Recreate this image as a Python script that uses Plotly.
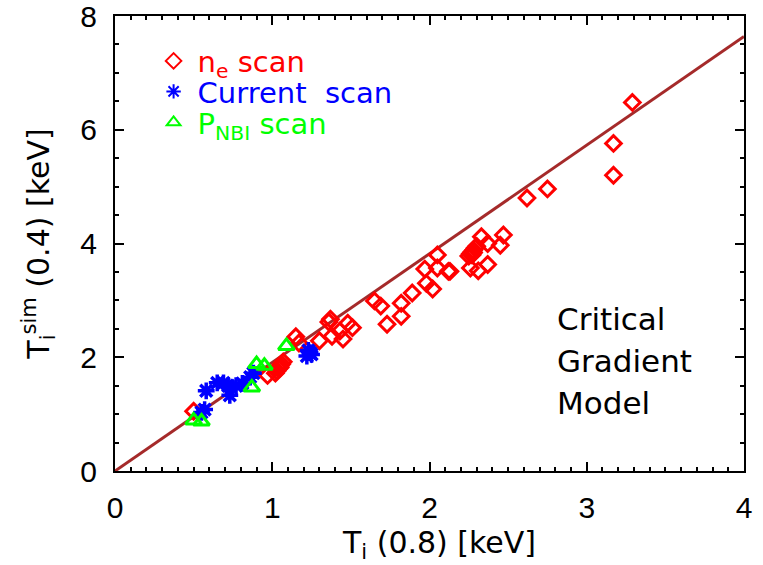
import plotly.graph_objects as go

# ---- data ----
ne_x = [0.50, 0.97, 1.02, 1.03, 1.04, 1.05, 1.05, 1.06, 1.07, 1.15, 1.17,
        1.30, 1.36, 1.37, 1.38, 1.43, 1.45, 1.48, 1.51,
        1.65, 1.69, 1.73, 1.82, 1.82, 1.89, 1.97, 1.98, 2.02, 2.05, 2.05, 2.12, 2.13,
        2.25, 2.26, 2.27, 2.27, 2.28, 2.28, 2.29, 2.30, 2.26, 2.31, 2.37,
        2.33, 2.47, 2.37, 2.45,
        2.62, 2.75, 3.17, 3.17, 3.29]
ne_y = [1.05, 1.68, 1.72, 1.76, 1.80, 1.82, 1.85, 1.88, 1.92, 2.36, 2.25,
        2.29, 2.62, 2.67, 2.37, 2.46, 2.32, 2.60, 2.52,
        2.99, 2.90, 2.58, 2.95, 2.72, 3.13, 3.55, 3.30, 3.20, 3.80, 3.57, 3.51, 3.51,
        3.78, 3.82, 3.80, 3.85, 3.84, 3.88, 3.92, 3.95, 3.57, 3.52, 3.63,
        4.12, 4.15, 4.00, 3.97,
        4.80, 4.96, 5.20, 5.76, 6.48]

cur_x = [0.55, 0.57, 0.58, 0.65, 0.69, 0.72, 0.73, 0.77, 0.81, 0.86, 0.88,
         1.22, 1.24, 1.23, 1.25]
cur_y = [1.03, 1.08, 1.41, 1.55, 1.55, 1.50, 1.33, 1.50, 1.54, 1.65, 1.72,
         2.02, 2.08, 2.12, 2.05]

nbi_x = [0.50, 0.55, 0.87, 0.90, 0.95, 1.09]
nbi_y = [0.89, 0.87, 1.47, 1.88, 1.85, 2.20]

fit_x = [0.0, 4.0]
fit_slope = 1.91
fit_y = [fit_slope * v for v in fit_x]

x_ticks = [0, 1, 2, 3, 4]
y_ticks = [0, 2, 4, 6, 8]

TICKFONT = "Liberation Sans, Arial, sans-serif"
TEXTFONT = "DejaVu Sans, Verdana, sans-serif"

fig = go.Figure()

fig.add_trace(go.Scatter(
    x=fit_x, y=fit_y, mode="lines", showlegend=False,
    line=dict(color="#A52A2A", width=3)))

fig.add_trace(go.Scatter(
    x=ne_x, y=ne_y, mode="markers", legend="legend",
    name='<span style="color:#FF0000">n<sub>e</sub> scan</span>',
    marker=dict(symbol="diamond-open", size=12, color="#FF0000",
                line=dict(width=3, color="#FF0000"))))

fig.add_trace(go.Scatter(
    x=cur_x, y=cur_y, mode="markers", legend="legend2",
    name='<span style="color:#0000FF">Current  scan</span>',
    marker=dict(symbol="asterisk-open", size=14, color="#0000FF",
                line=dict(width=3.5, color="#0000FF"))))

fig.add_trace(go.Scatter(
    x=nbi_x, y=nbi_y, mode="markers", legend="legend3",
    name='<span style="color:#00FF00">P<sub>NBI</sub> scan</span>',
    marker=dict(symbol="triangle-up-open", size=14, color="#00FF00",
                line=dict(width=3, color="#00FF00"))))

for i, txt in enumerate(["Critical", "Gradient", "Model"]):
    fig.add_annotation(x=0.70, y=0.335 - i * 0.093, xref="paper", yref="paper",
                       text=txt, showarrow=False, xanchor="left", yanchor="middle",
                       font=dict(family=TEXTFONT, size=31, color="black"))

# x-axis title, placed just below the tick labels
fig.add_annotation(x=0.515, y=-0.162, xref="paper", yref="paper",
                   text="T<sub>i</sub> (0.8) [keV]", showarrow=False,
                   xanchor="center", yanchor="middle",
                   font=dict(family=TEXTFONT, size=30, color="black"))

axis_common = dict(
    showgrid=False, zeroline=False, showline=True, linecolor="black", linewidth=2,
    mirror="allticks", ticks="inside", ticklen=9, tickwidth=2, tickcolor="black",
    tickfont=dict(family=TICKFONT, size=30, color="black"),
    ticklabeloverflow="allow", automargin=False,
)

leg_common = dict(xanchor="left", yanchor="middle", bgcolor="rgba(0,0,0,0)",
                  font=dict(family=TEXTFONT, size=29), itemsizing="constant",
                  borderwidth=0, itemwidth=38)

fig.update_layout(
    width=763, height=565,
    margin=dict(l=115, r=19, t=16, b=94),
    paper_bgcolor="white", plot_bgcolor="white",
    font=dict(family=TEXTFONT, color="black"),
    xaxis=dict(range=[0, 4], tickvals=x_ticks,
               minor=dict(dtick=0.1, ticks="inside", ticklen=4, tickwidth=2, tickcolor="black"),
               ticklabelstandoff=9,
               **axis_common),
    yaxis=dict(range=[0, 8], tickvals=y_ticks,
               minor=dict(dtick=0.5, ticks="inside", ticklen=4, tickwidth=2, tickcolor="black"),
               ticklabelstandoff=10,
               title=dict(text="T<sub>i</sub><sup>sim</sup> (0.4) [keV]", standoff=22,
                          font=dict(family=TEXTFONT, size=30)),
               **axis_common),
    legend=dict(x=0.055, y=0.901, **leg_common),
    legend2=dict(x=0.055, y=0.834, **leg_common),
    legend3=dict(x=0.055, y=0.766, **leg_common),
)

fig.write_html("out.html")
